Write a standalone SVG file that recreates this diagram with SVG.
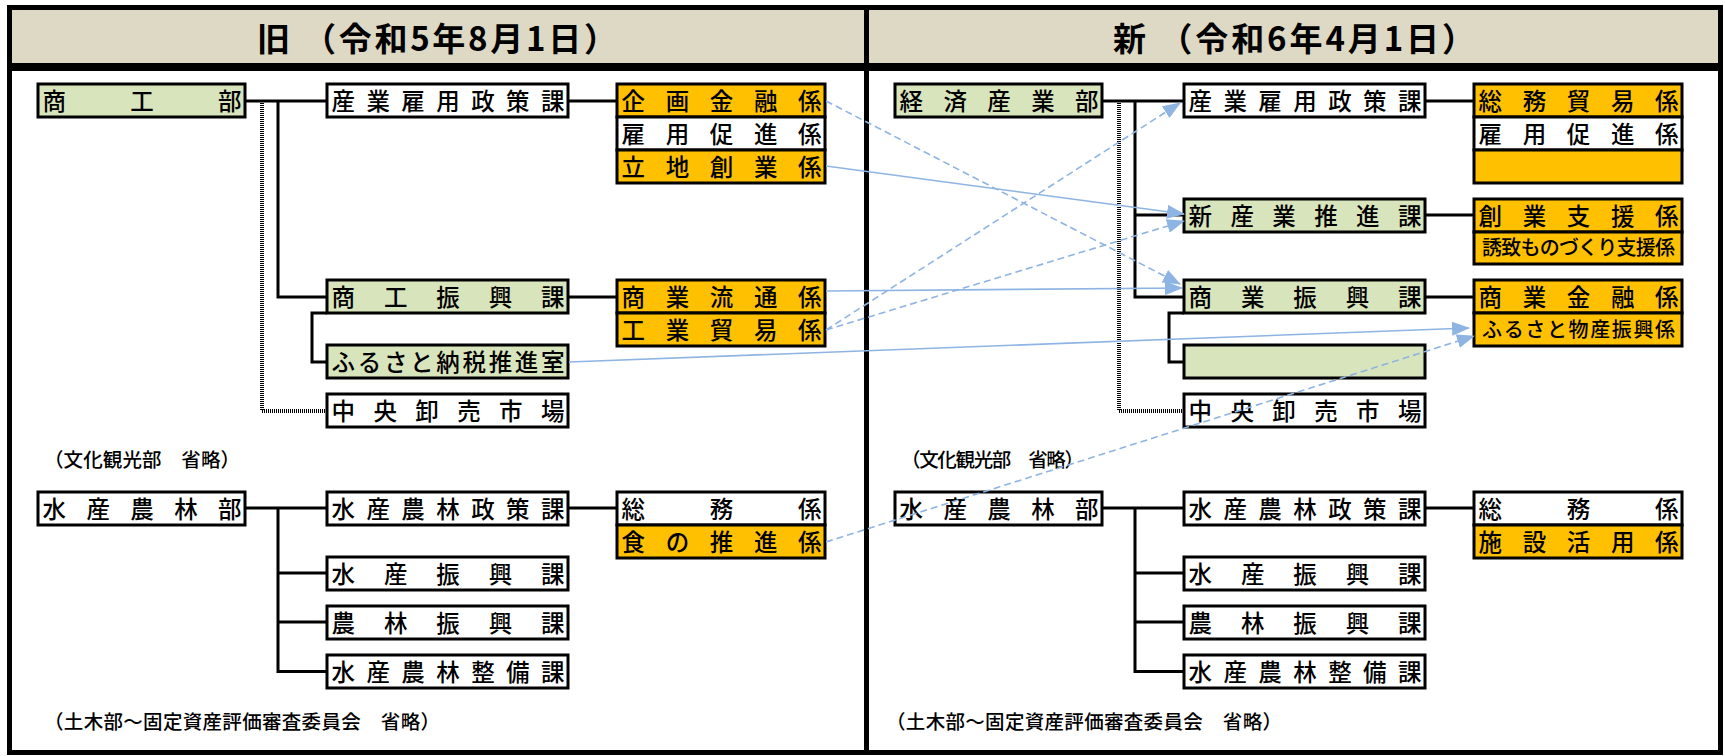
<svg xmlns="http://www.w3.org/2000/svg" width="1725" height="756" viewBox="0 0 1725 756">
<style>
.bx{stroke:#000;stroke-width:3}
.g{fill:#D8E4BC}.o{fill:#FFC000}.w{fill:#FFFFFF}
.t{font-family:"Noto Sans CJK JP","Noto Sans",sans-serif;font-size:23.5px;font-weight:500;fill:#000}
.s{font-family:"Noto Sans CJK JP","Noto Sans",sans-serif;font-size:20px;font-weight:500;fill:#000}
.n{font-family:"Noto Sans CJK JP","Noto Sans",sans-serif;font-size:19.5px;font-weight:500;fill:#000}
.h{font-family:"Noto Sans CJK JP","Noto Sans",sans-serif;font-size:33px;font-weight:bold;fill:#000}
.ln{stroke:#000;stroke-width:3;fill:none}
.dt{stroke:#000;stroke-width:4;stroke-dasharray:1 1;fill:none}
.ar{stroke:#8EB4E3;stroke-width:1.6;fill:none;marker-end:url(#ah)}
.da{stroke-dasharray:7 4}
</style>
<defs>
<marker id="ah" markerUnits="userSpaceOnUse" viewBox="0 0 18 14" refX="17" refY="7" markerWidth="18" markerHeight="14" orient="auto">
<path d="M0,0 L18,7 L0,14 z" fill="#8EB4E3"/>
</marker>
</defs>
<rect x="0" y="0" width="1725" height="756" fill="#fff"/>
<g id="frame">
<rect x="10" y="10" width="1710" height="53" fill="#DDD9C4"/>
<rect x="7" y="63" width="1716" height="8" fill="#000"/>
<rect x="864" y="5" width="5" height="750" fill="#000"/>
<rect x="9.5" y="7.5" width="1711" height="745" fill="none" stroke="#000" stroke-width="5"/>
</g>
<g id="header-old"><text class="h" x="437" y="51" text-anchor="middle" textLength="360" lengthAdjust="spacing">旧 （令和5年8月1日）</text></g>
<g id="header-new"><text class="h" x="1294" y="51" text-anchor="middle" textLength="362" lengthAdjust="spacing">新 （令和6年4月1日）</text></g>

<!-- OLD panel -->
<g id="old-shoko-bu"><rect class="bx g" x="38" y="84" width="207" height="33"/><text class="t" x="42.5" y="110" textLength="199" lengthAdjust="spacing">商工部</text></g>
<g id="old-sangyo-koyo"><rect class="bx w" x="327" y="84" width="241" height="33"/><text class="t" x="331.5" y="110" textLength="233" lengthAdjust="spacing">産業雇用政策課</text></g>
<g id="old-kikaku"><rect class="bx o" x="617" y="84" width="208" height="33"/><text class="t" x="621.5" y="110" textLength="200" lengthAdjust="spacing">企画金融係</text></g>
<g id="old-koyo-sokushin"><rect class="bx w" x="617" y="117" width="208" height="33"/><text class="t" x="621.5" y="143" textLength="200" lengthAdjust="spacing">雇用促進係</text></g>
<g id="old-ricchi"><rect class="bx o" x="617" y="150" width="208" height="33"/><text class="t" x="621.5" y="176" textLength="200" lengthAdjust="spacing">立地創業係</text></g>
<g id="old-shoko-shinko"><rect class="bx g" x="327" y="280" width="241" height="33"/><text class="t" x="331.5" y="306" textLength="233" lengthAdjust="spacing">商工振興課</text></g>
<g id="old-shogyo-ryutsu"><rect class="bx o" x="617" y="280" width="208" height="33"/><text class="t" x="621.5" y="306" textLength="200" lengthAdjust="spacing">商業流通係</text></g>
<g id="old-kogyo-boeki"><rect class="bx o" x="617" y="313" width="208" height="33"/><text class="t" x="621.5" y="339" textLength="200" lengthAdjust="spacing">工業貿易係</text></g>
<g id="old-furusato"><rect class="bx g" x="327" y="345" width="241" height="33"/><text class="t" x="331.5" y="371" textLength="233" lengthAdjust="spacing">ふるさと納税推進室</text></g>
<g id="old-oroshiuri"><rect class="bx w" x="327" y="394" width="241" height="33"/><text class="t" x="331.5" y="420" textLength="233" lengthAdjust="spacing">中央卸売市場</text></g>
<g id="old-note1"><text class="n" x="44" y="467" textLength="196" lengthAdjust="spacing">（文化観光部　省略）</text></g>
<g id="old-suisan-bu"><rect class="bx w" x="38" y="492" width="207" height="33"/><text class="t" x="42.5" y="518" textLength="199" lengthAdjust="spacing">水産農林部</text></g>
<g id="old-suisan-seisaku"><rect class="bx w" x="327" y="492" width="241" height="33"/><text class="t" x="331.5" y="518" textLength="233" lengthAdjust="spacing">水産農林政策課</text></g>
<g id="old-somu"><rect class="bx w" x="617" y="492" width="208" height="33"/><text class="t" x="621.5" y="518" textLength="200" lengthAdjust="spacing">総務係</text></g>
<g id="old-shoku"><rect class="bx o" x="617" y="525" width="208" height="33"/><text class="t" x="621.5" y="551" textLength="200" lengthAdjust="spacing">食の推進係</text></g>
<g id="old-suisan-shinko"><rect class="bx w" x="327" y="557" width="241" height="33"/><text class="t" x="331.5" y="583" textLength="233" lengthAdjust="spacing">水産振興課</text></g>
<g id="old-norin-shinko"><rect class="bx w" x="327" y="606" width="241" height="33"/><text class="t" x="331.5" y="632" textLength="233" lengthAdjust="spacing">農林振興課</text></g>
<g id="old-seibi"><rect class="bx w" x="327" y="655" width="241" height="33"/><text class="t" x="331.5" y="681" textLength="233" lengthAdjust="spacing">水産農林整備課</text></g>
<g id="old-note2"><text class="n" x="44" y="729" textLength="396" lengthAdjust="spacing">（土木部～固定資産評価審査委員会　省略）</text></g>

<!-- NEW panel -->
<g id="new-keizai-bu"><rect class="bx g" x="895" y="84" width="207" height="33"/><text class="t" x="899.5" y="110" textLength="199" lengthAdjust="spacing">経済産業部</text></g>
<g id="new-sangyo-koyo"><rect class="bx w" x="1184" y="84" width="241" height="33"/><text class="t" x="1188.5" y="110" textLength="233" lengthAdjust="spacing">産業雇用政策課</text></g>
<g id="new-somu-boeki"><rect class="bx o" x="1474" y="84" width="208" height="33"/><text class="t" x="1478.5" y="110" textLength="200" lengthAdjust="spacing">総務貿易係</text></g>
<g id="new-koyo-sokushin"><rect class="bx w" x="1474" y="117" width="208" height="33"/><text class="t" x="1478.5" y="143" textLength="200" lengthAdjust="spacing">雇用促進係</text></g>
<g id="new-empty-o"><rect class="bx o" x="1474" y="150" width="208" height="33"/></g>
<g id="new-shin-sangyo"><rect class="bx g" x="1184" y="199" width="241" height="33"/><text class="t" x="1188.5" y="225" textLength="233" lengthAdjust="spacing">新産業推進課</text></g>
<g id="new-sogyo"><rect class="bx o" x="1474" y="199" width="208" height="33"/><text class="t" x="1478.5" y="225" textLength="200" lengthAdjust="spacing">創業支援係</text></g>
<g id="new-yuchi"><rect class="bx o" x="1474" y="232" width="208" height="32"/><text class="s" x="1482" y="255" textLength="193" lengthAdjust="spacing">誘致ものづくり支援係</text></g>
<g id="new-shogyo-shinko"><rect class="bx g" x="1184" y="280" width="241" height="33"/><text class="t" x="1188.5" y="306" textLength="233" lengthAdjust="spacing">商業振興課</text></g>
<g id="new-shogyo-kinyu"><rect class="bx o" x="1474" y="280" width="208" height="33"/><text class="t" x="1478.5" y="306" textLength="200" lengthAdjust="spacing">商業金融係</text></g>
<g id="new-furusato-bussan"><rect class="bx o" x="1474" y="313" width="208" height="33"/><text class="s" x="1482" y="337" textLength="193" lengthAdjust="spacing">ふるさと物産振興係</text></g>
<g id="new-empty-g"><rect class="bx g" x="1184" y="345" width="241" height="33"/></g>
<g id="new-oroshiuri"><rect class="bx w" x="1184" y="394" width="241" height="33"/><text class="t" x="1188.5" y="420" textLength="233" lengthAdjust="spacing">中央卸売市場</text></g>
<g id="new-note1"><text class="n" x="901" y="467" textLength="183" lengthAdjust="spacing">（文化観光部　省略）</text></g>
<g id="new-suisan-bu"><rect class="bx w" x="895" y="492" width="207" height="33"/><text class="t" x="899.5" y="518" textLength="199" lengthAdjust="spacing">水産農林部</text></g>
<g id="new-suisan-seisaku"><rect class="bx w" x="1184" y="492" width="241" height="33"/><text class="t" x="1188.5" y="518" textLength="233" lengthAdjust="spacing">水産農林政策課</text></g>
<g id="new-somu"><rect class="bx w" x="1474" y="492" width="208" height="33"/><text class="t" x="1478.5" y="518" textLength="200" lengthAdjust="spacing">総務係</text></g>
<g id="new-shisetsu"><rect class="bx o" x="1474" y="525" width="208" height="33"/><text class="t" x="1478.5" y="551" textLength="200" lengthAdjust="spacing">施設活用係</text></g>
<g id="new-suisan-shinko"><rect class="bx w" x="1184" y="557" width="241" height="33"/><text class="t" x="1188.5" y="583" textLength="233" lengthAdjust="spacing">水産振興課</text></g>
<g id="new-norin-shinko"><rect class="bx w" x="1184" y="606" width="241" height="33"/><text class="t" x="1188.5" y="632" textLength="233" lengthAdjust="spacing">農林振興課</text></g>
<g id="new-seibi"><rect class="bx w" x="1184" y="655" width="241" height="33"/><text class="t" x="1188.5" y="681" textLength="233" lengthAdjust="spacing">水産農林整備課</text></g>
<g id="new-note2"><text class="n" x="886" y="729" textLength="396" lengthAdjust="spacing">（土木部～固定資産評価審査委員会　省略）</text></g>

<g id="connectors">
<!-- old tree -->
<path class="ln" d="M245,101 H327 M278,101 V297 H327 M327,313 H312 V362 H327 M568,101 H617 M568,297 H617"/>
<path class="dt" d="M262,103 V411 H327"/>
<path class="ln" d="M245,508 H327 M278,508 V673 M278,573 H327 M278,622 H327 M278,671.5 H327 M568,508 H617"/>
<!-- new tree -->
<path class="ln" d="M1102,101 H1184 M1135,101 V297 H1184 M1135,215 H1184 M1184,313 H1169 V362 H1184 M1425,101 H1474 M1425,215 H1474 M1425,297 H1474"/>
<path class="dt" d="M1119,103 V411 H1184"/>
<path class="ln" d="M1102,508 H1184 M1135,508 V673 M1135,573 H1184 M1135,622 H1184 M1135,671.5 H1184 M1425,508 H1474"/>
<!-- transfer arrows -->
<line class="ar da" x1="826" y1="101" x2="1180" y2="284"/>
<line class="ar" x1="826" y1="166" x2="1184" y2="214"/>
<line class="ar da" x1="826" y1="330" x2="1180" y2="103"/>
<line class="ar da" x1="826" y1="330" x2="1184" y2="221"/>
<line class="ar" x1="826" y1="291" x2="1182" y2="288"/>
<line class="ar" x1="569" y1="362" x2="1469" y2="328"/>
<line class="ar da" x1="826" y1="542" x2="1474" y2="336"/>
</g>
</svg>
